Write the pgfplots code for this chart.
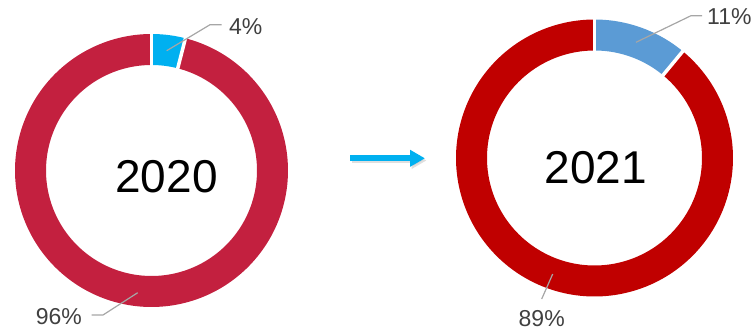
\documentclass[border=0pt]{standalone}
\usepackage{pgfplots}
\usepackage{pgfplotstable}
\pgfplotsset{compat=1.18}
\usetikzlibrary{arrows.meta}
\usepackage{fontspec}
\setmainfont{Liberation Sans}
\definecolor{redA}{HTML}{C3203F}
\definecolor{blueA}{HTML}{00B0F0}
\definecolor{redB}{HTML}{C00000}
\definecolor{blueB}{HTML}{5B9BD5}
\definecolor{lbl}{HTML}{404040}
\definecolor{lead}{HTML}{A6A6A6}
\definecolor{arr}{HTML}{00B0F0}
\pgfplotstableread{
year small large
2020 4 96
2021 11 89
}\donuts
\begin{document}
\begin{tikzpicture}
\pgfplotstablegetelem{0}{small}\of\donuts \let\sA\pgfplotsretval
\pgfplotstablegetelem{1}{small}\of\donuts \let\sB\pgfplotsretval
\pgfplotstablegetelem{0}{large}\of\donuts \let\lA\pgfplotsretval
\pgfplotstablegetelem{1}{large}\of\donuts \let\lB\pgfplotsretval
\pgfmathsetmacro\aA{90-3.6*\sA}
\pgfmathsetmacro\aB{90-3.6*\sB}
\pgfmathsetmacro\eA{\aA-3.6*\lA}
\pgfmathsetmacro\eB{\aB-3.6*\lB}
\begin{axis}[at={(0,0)}, anchor=south west, scale only axis,
  width=756pt, height=330pt, xmin=0, xmax=756, ymin=0, ymax=330,
  hide axis, clip=false]
% 2020 donut
\addplot[blueA, line width=31pt, domain=\aA:90, samples=20, variable=\t]
  ({151.5+121*cos(t)},{159.5+121*sin(t)});
\addplot[redA, line width=31pt, domain=\eA:\aA, samples=200, variable=\t]
  ({151.5+121*cos(t)},{159.5+121*sin(t)});
\draw[white, line width=3.5pt] (axis cs:{151.5+100*cos(90)},{159.5+100*sin(90)}) -- (axis cs:{151.5+142*cos(90)},{159.5+142*sin(90)});
\draw[white, line width=3.5pt] (axis cs:{151.5+100*cos(\aA)},{159.5+100*sin(\aA)}) -- (axis cs:{151.5+142*cos(\aA)},{159.5+142*sin(\aA)});
% 2021 donut
\addplot[blueB, line width=31pt, domain=\aB:90, samples=40, variable=\t]
  ({594.5+123*cos(t)},{172+123*sin(t)});
\addplot[redB, line width=31pt, domain=\eB:\aB, samples=200, variable=\t]
  ({594.5+123*cos(t)},{172+123*sin(t)});
\draw[white, line width=3.5pt] (axis cs:{594.5+102*cos(90)},{172+102*sin(90)}) -- (axis cs:{594.5+144*cos(90)},{172+144*sin(90)});
\draw[white, line width=3.5pt] (axis cs:{594.5+102*cos(\aB)},{172+102*sin(\aB)}) -- (axis cs:{594.5+144*cos(\aB)},{172+144*sin(\aB)});
% leaders
\draw[lead, line width=1.2pt] (axis cs:166.7,279.3) -- (axis cs:210,305.3) -- (axis cs:221.7,305.3);
\draw[lead, line width=1.2pt] (axis cs:137.7,37.3) -- (axis cs:103,15) -- (axis cs:91.7,15);
\draw[lead, line width=1.2pt] (axis cs:636,287.7) -- (axis cs:691,314.3) -- (axis cs:702,314.3);
\draw[lead, line width=1.2pt] (axis cs:552.7,56) -- (axis cs:541.7,31);
% labels
\node[anchor=west, text=lbl, inner sep=0pt, font=\fontsize{23}{26}\selectfont] at (axis cs:229,303.3) {4\%};
\node[anchor=east, text=lbl, inner sep=0pt, font=\fontsize{23}{26}\selectfont] at (axis cs:82,13.5) {96\%};
\node[anchor=west, text=lbl, inner sep=0pt, font=\fontsize{23}{26}\selectfont] at (axis cs:707,313.3) {11\%};
\node[anchor=center, text=lbl, inner sep=0pt, font=\fontsize{23}{26}\selectfont] at (axis cs:541.7,11.5) {89\%};
\node[anchor=center, inner sep=0pt, font=\fontsize{46}{50}\selectfont] at (axis cs:166.5,153.5) {2020};
\node[anchor=center, inner sep=0pt, font=\fontsize{46}{50}\selectfont] at (axis cs:596,162) {2021};
% arrow
\draw[black!25, opacity=0.5, line width=6pt, -{Triangle[length=15pt,width=16pt]}] (axis cs:351.5,169.5) -- (axis cs:426.5,169.5);
\draw[arr, line width=6pt, -{Triangle[length=15pt,width=16pt]}] (axis cs:350,171.7) -- (axis cs:425,171.7);
\end{axis}
\pgfresetboundingbox
\path[use as bounding box] (0,0) rectangle (756pt,330pt);
\end{tikzpicture}
\end{document}
